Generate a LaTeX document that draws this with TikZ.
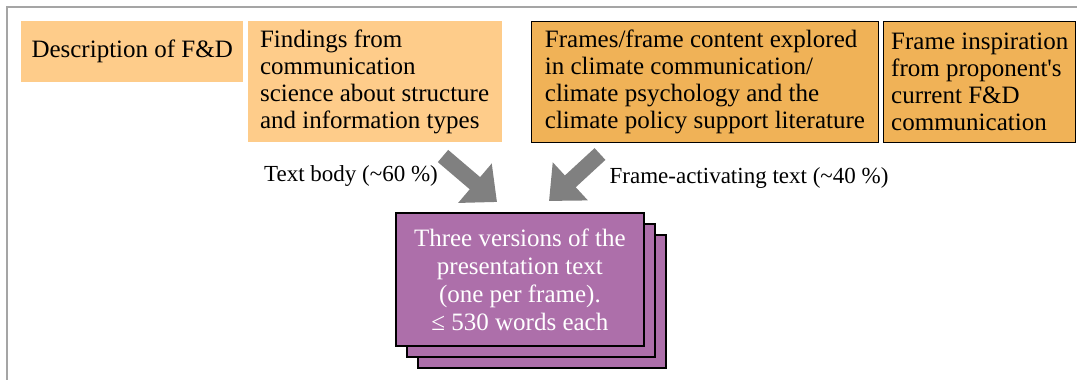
\documentclass[tikz,border=0pt]{standalone}
\usepackage{fontspec}
\setmainfont{Liberation Serif}
\usetikzlibrary{positioning}
\usetikzlibrary{arrows.meta}
\definecolor{lightorange}{RGB}{254,204,138}
\definecolor{darkorange}{RGB}{240,178,87}
\definecolor{cardpurple}{RGB}{173,111,170}
\definecolor{arrowgray}{RGB}{128,128,128}
\definecolor{framegray}{RGB}{165,165,165}
\tikzstyle{srcL} = [rectangle, fill=lightorange, align=left, inner sep=0pt, anchor=north west, font=\fontsize{25}{27}\selectfont]
\tikzstyle{srcD} = [srcL, fill=darkorange, draw=black, line width=1.3pt]
\tikzstyle{card} = [rectangle, fill=cardpurple, draw=black, line width=1.8pt, minimum width=248pt, minimum height=133pt, anchor=north west, text=white, align=center, font=\fontsize{25}{28}\selectfont]
\tikzstyle{share} = [font=\fontsize{23}{25}\selectfont]
\tikzstyle{flow} = [draw=arrowgray, line width=16pt, -{Triangle[width=50pt,length=29pt]}]

\begin{document}
\begin{tikzpicture}[x=1pt, y=-1pt]
\useasboundingbox (0,0) rectangle (1077,380);
\draw[framegray, line width=1.5pt] (1077,7) -- (7,7) -- (7,380);

% Define nodes
\node[srcL, minimum width=222pt, minimum height=61pt]                          (desc)   at (21,21) {Description of F\&D};
\node[srcL, minimum width=254pt, minimum height=121pt, right = 4pt of desc.north east, anchor=north west]
      (find)   {Findings from\\communication\\science about structure\\and information types};
\node[srcD, minimum width=347pt, minimum height=121pt, right = 29pt of find.north east, anchor=north west]
      (frames) {Frames/frame content explored\\in climate communication/\\climate psychology and the\\climate policy support literature};
\node[srcD, minimum width=192pt, minimum height=121pt, right = 4pt of frames.north east, anchor=north west]
      (insp)   {Frame inspiration\\from proponent\textquotesingle s\\current F\&D\\communication};

\node[card]                                                              (card3) at (417,234) {};
\node[card, above left = 11pt and 11pt of card3.north west, anchor=north west] (card2) {};
\node[card, above left = 11pt and 11pt of card2.north west, anchor=north west] (card1)
      {Three versions of the\\presentation text\\(one per frame).\\≤ 530 words each};

\node[share]                                                             (bodylbl)  at (351,176) {Text body (\textasciitilde 60 \%)};
\node[share]                                                             (framelbl) at (749,178) {Frame-activating text (\textasciitilde 40 \%)};

\coordinate (bodytail)  at (443,156);
\coordinate (bodytip)   at (497,202);
\coordinate (frametail) at (600,154);
\coordinate (frametip)  at (549,201);

% Edges
\draw[flow] (bodytail)  -- (bodytip);
\draw[flow] (frametail) -- (frametip);
\end{tikzpicture}
\end{document}
